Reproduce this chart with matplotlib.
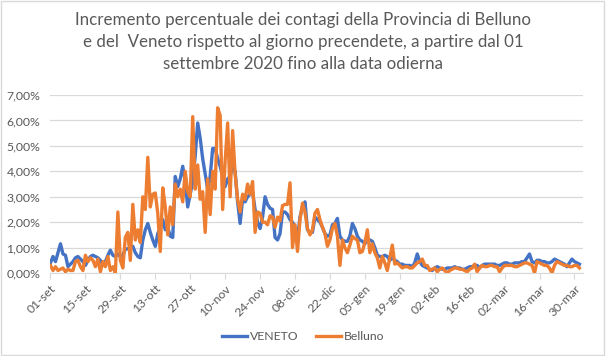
import matplotlib
matplotlib.use('Agg')
import matplotlib.pyplot as plt
from matplotlib.ticker import FuncFormatter
from matplotlib.patches import Rectangle
import numpy as np

# incremento % giornaliero, dal 01-set-2020 al 01-apr-2021 (213 giorni)
veneto = [
    0.40, 0.65, 0.45, 0.80, 1.15, 0.75, 0.70, 0.25, 0.35, 0.45, 0.60, 0.65, 0.55, 0.45,
    0.30, 0.50, 0.65, 0.70, 0.65, 0.60, 0.50, 0.30, 0.45, 0.70, 0.90, 0.70, 0.65, 0.75,
    0.65, 0.70, 0.95, 0.95, 1.00, 1.05, 0.80, 0.65, 0.60, 1.30, 1.70, 1.95, 1.60, 1.30,
    1.05, 1.55, 1.80, 2.10, 1.70, 1.80, 1.45, 1.40, 3.80, 3.40, 3.70, 4.20, 3.60, 2.60,
    3.10, 3.60, 4.60, 5.90, 5.30, 4.50, 3.90, 3.30, 3.80, 4.90, 4.90, 4.50, 4.20, 3.80,
    3.40, 3.70, 3.80, 4.20, 4.00, 2.80, 1.95, 2.90, 2.80, 3.00, 3.10, 3.20, 2.50, 2.00,
    1.75, 2.20, 3.00, 2.70, 2.55, 2.50, 1.40, 1.30, 1.55, 2.40, 2.40, 2.30, 2.10, 2.00,
    1.80, 1.35, 2.20, 2.60, 2.80, 1.70, 1.60, 1.60, 2.20, 2.10, 2.00, 1.80, 1.55, 1.45,
    1.50, 1.90, 1.95, 2.15, 1.45, 1.30, 1.25, 1.25, 1.45, 1.95, 1.75, 1.45, 1.30, 1.25,
    1.15, 1.30, 1.30, 1.25, 1.00, 0.70, 0.65, 0.65, 0.70, 0.65, 0.50, 0.60, 0.50, 0.45,
    0.35, 0.35, 0.30, 0.30, 0.30, 0.25, 0.40, 0.75, 0.45, 0.30, 0.25, 0.20, 0.15, 0.10,
    0.20, 0.25, 0.20, 0.15, 0.15, 0.20, 0.20, 0.20, 0.25, 0.20, 0.20, 0.15, 0.15, 0.20,
    0.25, 0.25, 0.30, 0.30, 0.20, 0.30, 0.35, 0.35, 0.35, 0.35, 0.35, 0.30, 0.30, 0.35,
    0.40, 0.40, 0.35, 0.35, 0.40, 0.40, 0.40, 0.45, 0.45, 0.60, 0.75, 0.45, 0.40, 0.50,
    0.50, 0.45, 0.45, 0.40, 0.40, 0.45, 0.55, 0.50, 0.45, 0.40, 0.35, 0.25, 0.40, 0.55,
    0.45, 0.40, 0.35,
]

belluno = [
    0.30, 0.10, 0.25, 0.10, 0.15, 0.20, 0.05, 0.15, 0.10, 0.10, 0.45, 0.50, 0.25, 0.10,
    0.70, 0.45, 0.60, 0.50, 0.25, 0.55, 0.05, 0.45, 0.25, 0.65, 0.10, 0.25, 0.00, 2.40,
    0.50, 0.20, 1.40, 1.60, 0.50, 2.70, 1.30, 1.70, 1.20, 3.00, 2.50, 4.55, 2.60, 3.10,
    3.15, 2.35, 0.85, 3.35, 2.60, 1.50, 2.60, 1.90, 3.50, 3.00, 3.30, 2.80, 4.00, 3.20,
    3.00, 6.15, 3.30, 4.25, 2.90, 3.20, 1.60, 3.70, 2.30, 4.00, 3.30, 6.50, 6.20, 2.50,
    4.40, 5.90, 3.00, 5.60, 3.90, 2.90, 2.40, 3.10, 2.90, 3.50, 3.10, 3.60, 1.60, 2.40,
    2.35, 2.00, 2.00, 1.90, 2.25, 2.20, 1.80, 2.20, 2.05, 2.65, 2.70, 2.70, 3.55, 1.00,
    1.90, 0.85, 2.10, 2.75, 2.40, 1.75, 1.50, 1.70, 2.35, 2.50, 2.10, 1.80, 1.55, 1.05,
    1.30, 1.75, 1.95, 1.45, 0.30, 1.30, 1.00, 0.80, 1.10, 1.45, 1.35, 1.30, 0.80, 0.85,
    1.20, 1.70, 0.80, 1.15, 0.80, 0.60, 0.20, 0.65, 0.40, 0.10, 0.60, 1.10, 0.35, 0.40,
    0.30, 0.20, 0.25, 0.25, 0.20, 0.20, 0.30, 0.40, 0.45, 0.55, 0.30, 0.30, 0.10, 0.15,
    0.20, 0.05, 0.15, 0.20, 0.10, 0.00, 0.10, 0.15, 0.20, 0.20, 0.15, 0.15, 0.10, 0.05,
    0.15, 0.20, 0.35, 0.05, 0.20, 0.30, 0.25, 0.25, 0.30, 0.30, 0.25, 0.25, 0.05, 0.20,
    0.30, 0.30, 0.30, 0.30, 0.25, 0.25, 0.30, 0.35, 0.40, 0.40, 0.35, 0.30, 0.00, 0.45,
    0.40, 0.35, 0.30, 0.30, 0.20, 0.00, 0.30, 0.45, 0.40, 0.35, 0.30, 0.30, 0.25, 0.25,
    0.30, 0.30, 0.20,
]

tick_labels = ['01-set', '15-set', '29-set', '13-ott', '27-ott', '10-nov', '24-nov',
               '08-dic', '22-dic', '05-gen', '19-gen', '02-feb', '16-feb', '02-mar',
               '16-mar', '30-mar']

titolo = ("Incremento percentuale dei contagi della Provincia di Belluno\n"
          "e del  Veneto rispetto al giorno precendete, a partire dal 01\n"
          "settembre 2020 fino alla data odierna")

plt.rcParams['font.family'] = ['Lato', 'DejaVu Sans']
grigio = '#595959'

giorni = np.arange(len(veneto))

fig = plt.figure(figsize=(6.06, 3.56), dpi=100)
ax = fig.add_axes([0.0825, 0.233, 0.879, 0.5])

ax.plot(giorni, np.array(veneto) / 100, color='#4472C4', lw=2.4, label='VENETO',
        solid_joinstyle='round')
ax.plot(giorni, np.array(belluno) / 100, color='#ED7D31', lw=2.4, label='Belluno',
        solid_joinstyle='round')

ax.set_ylim(0, 0.07)
ax.set_yticks(np.arange(0, 0.071, 0.01))
ax.yaxis.set_major_formatter(FuncFormatter(lambda v, p: f"{v*100:.2f}%".replace('.', ',')))
ax.set_xlim(-0.2, 213.3)
ax.set_xticks(np.arange(0, 14 * len(tick_labels), 14))
ax.set_xticklabels(tick_labels, rotation=45, ha='right', rotation_mode='anchor')

ax.grid(axis='y', color='#D9D9D9', lw=0.9)
ax.set_axisbelow(True)
for s in ['top', 'right', 'left']:
    ax.spines[s].set_visible(False)
ax.spines['bottom'].set_color('#D9D9D9')
ax.tick_params(axis='y', length=0, labelsize=8.8, labelcolor=grigio, pad=7)
ax.tick_params(axis='x', length=4, color='#D9D9D9', labelsize=8.8, labelcolor=grigio, pad=3)

fig.text(0.5, 0.965, titolo, ha='center', va='top', fontsize=12.2, color=grigio,
         linespacing=1.45)

fig.legend(loc='center', bbox_to_anchor=(0.5, 0.055), ncol=2, frameon=False,
           fontsize=8.8, labelcolor=grigio, handlelength=2.1, columnspacing=1.4,
           handletextpad=0.2)

fig.patches.append(Rectangle((0.002, 0.003), 0.995, 0.993, transform=fig.transFigure,
                             fill=False, edgecolor='#D9D9D9', lw=1))

fig.savefig('out.png', dpi=100)
